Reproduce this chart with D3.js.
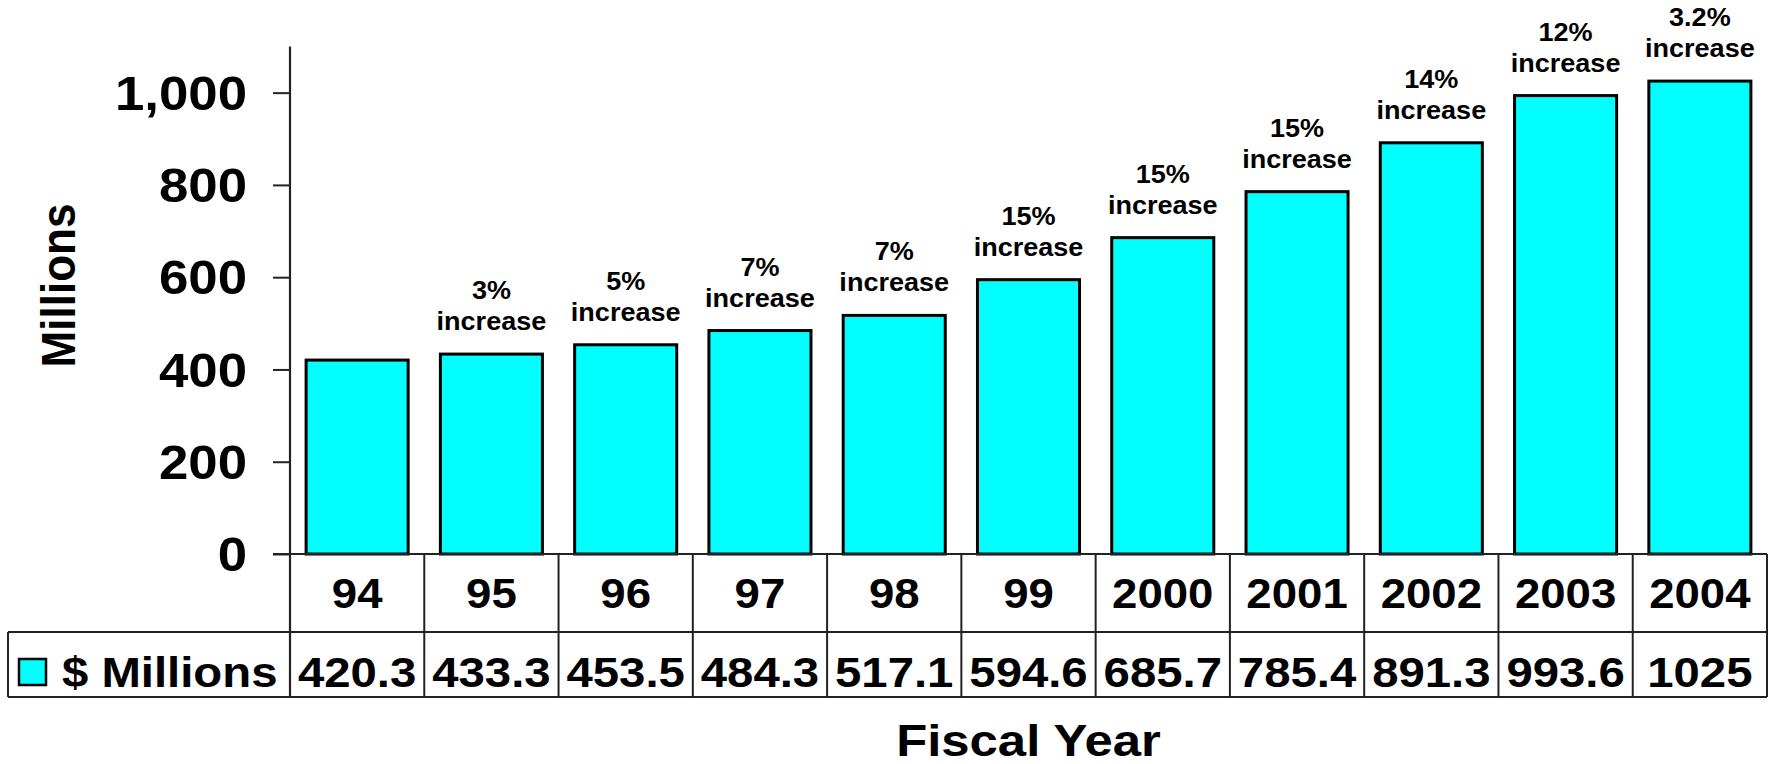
<!DOCTYPE html>
<html>
<head>
<meta charset="utf-8">
<script src="https://cdn.jsdelivr.net/npm/d3@7"></script>
<style>
  html, body { margin: 0; padding: 0; background: #fff; }
  svg text { font-family: "Liberation Sans", Arial, Helvetica, sans-serif; font-weight: bold; fill: #000; }
</style>
</head>
<body>
<svg id="chart" width="1784" height="764"></svg>
<script>
// Fiscal years and funding in $ millions
const years = ["94", "95", "96", "97", "98", "99", "2000", "2001", "2002", "2003", "2004"];
const millions = [420.3, 433.3, 453.5, 484.3, 517.1, 594.6, 685.7, 785.4, 891.3, 993.6, 1025];
const valueLabels = ["420.3", "433.3", "453.5", "484.3", "517.1", "594.6", "685.7", "785.4", "891.3", "993.6", "1025"];
// Year-over-year growth notes shown above the bars
const growth = ["", "3%", "5%", "7%", "7%", "15%", "15%", "15%", "14%", "12%", "3.2%"];
const yTicks = [0, 200, 400, 600, 800, 1000];

const svg = d3.select("#chart");
const W = 1784, H = 764;
svg.append("rect").attr("width", W).attr("height", H).attr("fill", "#fff");

const plotLeft = 290, plotRight = 1767;
const baseY = 554, topY = 46.5;
const row1Bottom = 632, row2Bottom = 697, tableLeft = 8;
const lineColor = "#222";

const x = d3.scaleBand().domain(years).range([plotLeft, plotRight])
  .paddingInner(0.24).paddingOuter(0.12);
const y = d3.scaleLinear().domain([0, 1100]).range([baseY, topY]);

// helper: bold text stretched horizontally around its anchor point
function stretchedText(g, tx, ty, str, size, sx, anchor, dy) {
  return g.append("text")
    .attr("transform", `translate(${tx},${ty}) scale(${sx},1)`)
    .attr("text-anchor", anchor)
    .attr("dy", dy)
    .style("font-size", size + "px")
    .text(str);
}

// Value axis
const yAxis = d3.axisLeft(y).tickValues(yTicks).tickSize(17).tickFormat("");
const yAxisG = svg.append("g").attr("transform", `translate(${plotLeft},0)`).call(yAxis);
yAxisG.select(".domain").remove();
yAxisG.selectAll(".tick line").attr("stroke", lineColor).attr("stroke-width", 2);
svg.append("line").attr("x1", plotLeft).attr("x2", plotLeft)
  .attr("y1", topY).attr("y2", row2Bottom)
  .attr("stroke", lineColor).attr("stroke-width", 2.2);

const tickLabels = svg.append("g");
yTicks.forEach(v => {
  stretchedText(tickLabels, 247, y(v), d3.format(",")(v), 48, 1.1, "end", "0.36em");
});

// Axis titles
svg.append("text")
  .attr("transform", `translate(58,285.5) scale(1.09,1) rotate(-90)`)
  .attr("text-anchor", "middle").attr("dy", "0.36em")
  .style("font-size", "44px").text("Millions");

stretchedText(svg, (plotLeft + plotRight) / 2, 756, "Fiscal Year", 45, 1.13, "middle", "0");

// Bars
svg.append("g").selectAll("rect").data(millions).join("rect")
  .attr("x", (d, i) => x(years[i]))
  .attr("width", x.bandwidth())
  .attr("y", d => y(d))
  .attr("height", d => y(0) - y(d))
  .attr("fill", "#00ffff")
  .attr("stroke", "#000")
  .attr("stroke-width", 3);

// Growth annotations
const notes = svg.append("g");
growth.forEach((t, i) => {
  if (!t) return;
  const cx = Math.min(x(years[i]) + x.bandwidth() / 2, 1714);
  const by = y(millions[i]) - 24;
  stretchedText(notes, cx, by, "increase", 26, 1.04, "middle", "0");
  stretchedText(notes, cx, by - 31, t, 26, 1.04, "middle", "0");
});

// Data table beneath the plot
const table = svg.append("g");
table.append("line").attr("x1", plotLeft - 17).attr("x2", plotRight)
  .attr("y1", baseY).attr("y2", baseY).attr("stroke", lineColor).attr("stroke-width", 2.2);
[row1Bottom, row2Bottom].forEach(yy => {
  table.append("line").attr("x1", tableLeft).attr("x2", plotRight)
    .attr("y1", yy).attr("y2", yy).attr("stroke", lineColor).attr("stroke-width", 2);
});
table.append("line").attr("x1", tableLeft).attr("x2", tableLeft)
  .attr("y1", row1Bottom).attr("y2", row2Bottom).attr("stroke", lineColor).attr("stroke-width", 2);
const step = x.step();
d3.range(years.length + 1).forEach(k => {
  const xx = plotLeft + k * step;
  table.append("line").attr("x1", xx).attr("x2", xx)
    .attr("y1", baseY).attr("y2", row2Bottom).attr("stroke", lineColor).attr("stroke-width", 2);
});

years.forEach((yr, i) => {
  const cx = x(yr) + x.bandwidth() / 2;
  stretchedText(table, cx, 608, yr, 43, 1.06, "middle", "0");
  stretchedText(table, cx, 687, valueLabels[i], 43, 1.1, "middle", "0");
});

// Legend key
table.append("rect").attr("x", 19).attr("y", 659).attr("width", 27).attr("height", 26)
  .attr("fill", "#00ffff").attr("stroke", "#000").attr("stroke-width", 2.5);
stretchedText(table, 62, 687, "$ Millions", 43, 1.1, "start", "0");
</script>
</body>
</html>
